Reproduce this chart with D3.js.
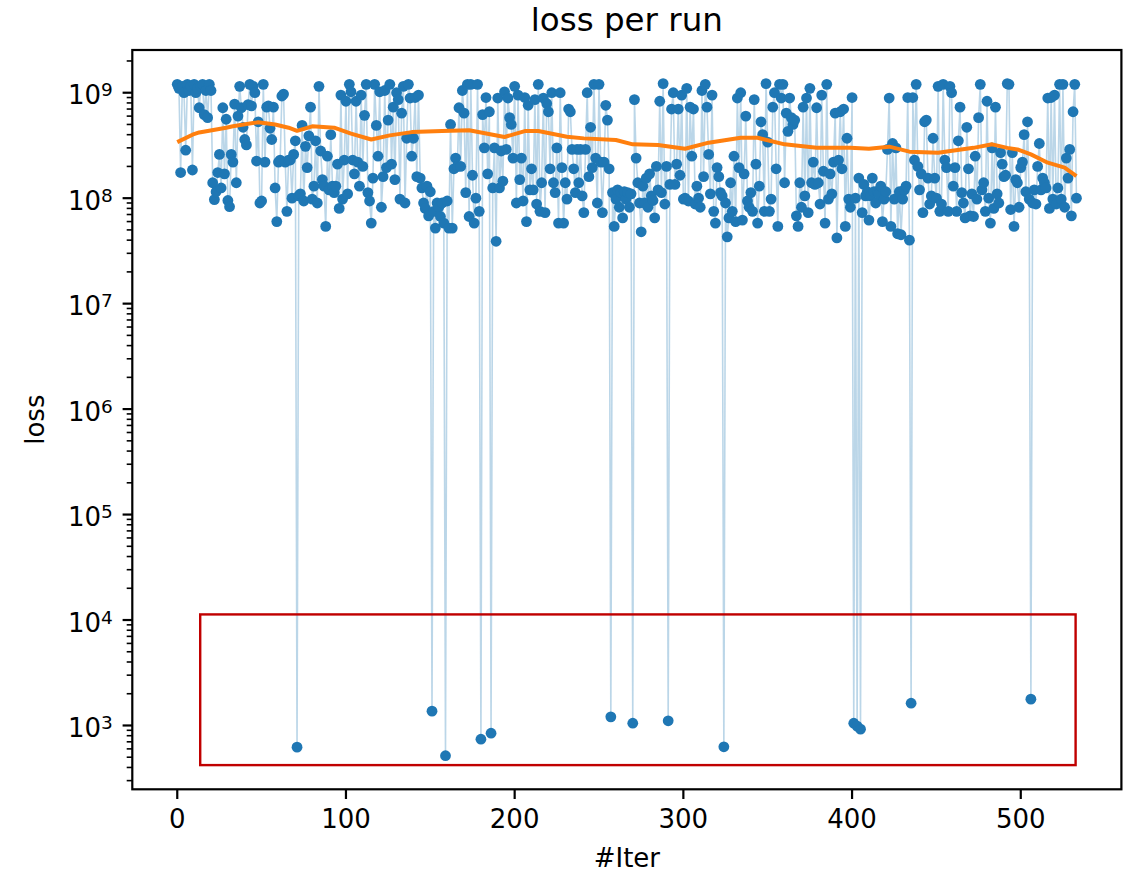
<!DOCTYPE html>
<html>
<head>
<meta charset="utf-8">
<script src="https://cdn.jsdelivr.net/npm/d3@7"></script>
<style>
  html, body { margin: 0; padding: 0; background: #fff; }
  svg { display: block; font-family: "DejaVu Sans", sans-serif; }
</style>
</head>
<body>
<svg id="chart" width="1132" height="872"></svg>
<script>
// ---------------- data ----------------
const title = "loss per run";
const xLabel = "#Iter";
const yLabel = "loss";

// loss per iteration, index = #Iter
const loss = [
  1.2e9, 1.1e9, 1.75e8, 1.15e9, 1.0e9, 2.85e8, 1.2e9, 1.05e9, 1.15e9, 1.85e8,
  1.2e9, 1.0e9, 1.1e9, 7.2e8, 1.15e9, 1.2e9, 6.2e8, 1.05e9, 5.8e8, 1.2e9,
  1.05e9, 1.4e8, 9.7e7, 1.15e8, 1.75e8, 2.6e8, 1.25e8, 7.2e8, 1.7e8, 5.6e8,
  9.5e7, 8.3e7, 2.6e8, 2.2e8, 7.8e8, 1.4e8, 6.0e8, 1.15e9, 7.2e8, 4.7e8,
  3.6e8, 3.2e8, 7.7e8, 1.2e9, 7.5e8, 1.15e9, 1.0e9, 2.25e8, 5.3e8, 9e7,
  9.4e7, 1.2e9, 2.2e8, 7.3e8, 7.5e8, 4.6e8, 3.6e8, 7.3e8, 1.25e8, 6e7,
  2.2e8, 2.3e8, 9.3e8, 9.7e8, 2.2e8, 7.5e7, 2.3e8, 2.3e8, 1.0e8, 2.6e8,
  3.5e8, 623, 1.05e8, 1.1e8, 4.9e8, 9.4e7, 3.1e8, 1.95e8, 3.9e8, 7.3e8,
  9.8e7, 1.3e8, 3.5e8, 9e7, 1.15e9, 2.8e8, 1.5e8, 1.3e8, 5.4e7, 2.5e8,
  1.2e8, 4e8, 1.3e8, 1.13e8, 1.3e8, 2.1e8, 8e7, 9.5e8, 9.8e7, 2.3e8,
  8.3e8, 1.1e8, 1.2e9, 1.02e9, 2.3e8, 1.7e8, 8.3e8, 2.2e8, 1.3e8, 9.5e8,
  2.0e8, 6.1e8, 1.2e9, 1.13e8, 9.4e7, 5.8e7, 1.55e8, 1.2e9, 4.9e8, 2.5e8,
  1.02e9, 8.2e7, 1.6e8, 1.05e9, 1.95e8, 5.5e8, 1.2e9, 2.1e8, 7.3e8, 1.5e8,
  1.0e9, 8.6e8, 9.8e7, 6.4e8, 1.15e9, 9e7, 3.7e8, 1.2e9, 8.9e8, 2.5e8,
  3.7e8, 9e8, 1.6e8, 9.5e8, 1.55e8, 1.25e8, 9e7, 8e7, 1.3e8, 6.8e7,
  1.15e8, 1367, 7.5e7, 5.2e7, 9e7, 8.2e7, 6.7e7, 9e7, 5.8e7, 517,
  9.4e7, 5.2e7, 5e8, 5.2e7, 1.9e8, 2.4e8, 2e8, 7.2e8, 2e8, 1.05e9,
  6.4e8, 1.13e8, 1.2e9, 6.7e7, 1.2e9, 1.65e8, 5.8e7, 1.0e8, 1.2e9, 7.5e7,
  741, 6.2e8, 3.0e8, 9e8, 1.7e8, 6.6e8, 845, 1.25e8, 3e8, 3.9e7,
  8.9e8, 1.25e8, 2.8e8, 1.45e8, 1.02e9, 2.9e8, 8.9e8, 5.8e8, 5e8, 2.4e8,
  1.15e9, 9e7, 9.5e8, 1.5e8, 2.4e8, 9.4e7, 9e8, 6e7, 7.6e8, 1.2e8,
  1.9e8, 1.2e8, 8.6e8, 8.8e7, 1.2e9, 7.5e7, 1.4e8, 8.9e8, 7.3e7, 7.9e8,
  6.6e8, 1.9e8, 1.0e9, 1.4e8, 1.13e8, 3e8, 5.8e7, 1e9, 1.95e8, 5.8e7,
  1.4e8, 9.8e7, 7e8, 6.6e8, 2.9e8, 1.9e8, 1.13e8, 2.9e8, 1.4e8, 2.9e8,
  1.05e8, 7.3e7, 2.9e8, 1e9, 1.6e8, 4.7e8, 1.95e8, 1.2e9, 2.4e8, 9e7,
  1.2e9, 2.2e8, 7.3e7, 2.2e8, 7.6e8, 5.5e8, 1.9e8, 1208, 1.13e8, 5.4e7,
  9.8e7, 1.2e8, 8.2e7, 1.13e8, 6.5e7, 1.15e8, 9.8e7, 1.13e8, 8.2e7, 1.1e8,
  1051, 8.6e8, 2.4e8, 1.4e8, 9e7, 4.8e7, 1.3e8, 9e7, 1.55e8, 8.2e7,
  1.7e8, 1.05e8, 9.5e7, 6.5e7, 2e8, 1.2e8, 8.3e8, 1.13e8, 1.22e9, 8.8e7,
  2e8, 1108, 1.35e8, 7e8, 1.0e9, 1.35e8, 2.1e8, 7e8, 1.65e8, 9.5e8,
  9.8e7, 1.0e8, 1.1e9, 9.4e7, 7.3e8, 2.5e8, 7e8, 8.8e7, 1.3e8, 1.0e8,
  8.2e7, 1.05e9, 1.6e8, 1.2e9, 7.3e8, 2.6e8, 1.1e8, 9.5e8, 7.5e7, 5.8e7,
  1.95e8, 1.6e8, 1.13e8, 1.05e8, 628, 9e7, 4.3e7, 6.5e7, 1.4e8, 7.5e7,
  2.5e8, 6e7, 8.9e8, 1.95e8, 1.0e9, 6.2e7, 1.7e8, 6e8, 9.4e7, 8.2e7,
  1.13e8, 7.5e7, 8.6e8, 2.1e8, 5.8e7, 1.3e8, 5.3e8, 4e8, 7.5e7, 1.22e9,
  3.4e8, 7.5e7, 9.8e7, 7.3e8, 1.0e9, 1.9e8, 5.4e7, 1.2e9, 8.9e8, 1.2e9,
  1.4e8, 6.4e8, 4.3e8, 8.9e8, 5.8e8, 5e8, 5.5e8, 6.8e7, 5.4e7, 1.4e8,
  8.2e7, 7.3e8, 1.05e8, 8.9e8, 7.3e7, 1.1e9, 1.4e8, 2.2e8, 1.35e8, 7.2e8,
  1.4e8, 8.8e7, 9.5e8, 1.8e8, 5.8e7, 1.2e9, 9.8e7, 1.7e8, 1.1e8, 2.2e8,
  6.4e8, 4.2e7, 2.3e8, 6.6e8, 1.9e8, 7e8, 5.4e7, 3.7e8, 9.8e7, 8.2e7,
  9e8, 1051, 1.0e8, 985, 1.55e8, 923, 7.3e7, 1.35e8, 1.05e8, 1.15e8,
  6.2e7, 1.05e8, 1.55e8, 1.15e8, 9e7, 1.15e8, 1.1e8, 1.3e8, 6e7, 9.8e7,
  1.15e8, 2.9e8, 8.9e8, 5.4e7, 3.3e8, 9.8e7, 3e8, 4.6e7, 1.15e8, 4.5e7,
  9.8e7, 1.2e8, 1.3e8, 9e8, 4e7, 1626, 9e8, 2.3e8, 1.2e9, 2e8,
  1.2e8, 1.7e8, 7.3e7, 5.3e8, 5.5e8, 1.55e8, 8.8e7, 1.05e8, 3.7e8, 1.55e8,
  1e8, 1.15e9, 7.5e7, 8.8e7, 1.2e9, 2.3e8, 1.95e8, 7.5e7, 1.15e9, 1e9,
  1.3e8, 1.95e8, 7.5e7, 3.5e8, 7.3e8, 1.13e8, 9e7, 6.5e7, 4.7e8, 1.9e8,
  6.8e7, 1.1e8, 6.7e7, 2.5e8, 9.8e7, 5.8e8, 1.2e9, 1.2e8, 1.4e8, 7.5e7,
  8.3e8, 1e8, 5.8e7, 3e8, 8e7, 7.3e8, 1.1e8, 9e7, 2.7e8, 2.1e8,
  1.6e8, 1.65e8, 1.22e9, 1.2e9, 7.8e7, 2.7e8, 5.4e7, 1.5e8, 1.4e8, 8.2e7,
  1.95e8, 2.2e8, 4e8, 1.15e8, 5.3e8, 9.8e7, 1776, 9e7, 1.2e8, 8.8e7,
  2e8, 3.3e8, 1.2e8, 1.55e8, 1.4e8, 1.25e8, 8.9e8, 8e7, 9e8, 9.8e7,
  9.5e8, 8.8e7, 1.25e8, 1.2e9, 9.8e7, 1.2e9, 8.2e7, 2.4e8, 1.55e8, 2.9e8,
  6.8e7, 6.6e8, 1.2e9, 1.0e8
];

// orange running-average curve, read at these iterations
const avgIter = [0, 9, 13, 29, 33, 48, 58, 66, 71, 80, 93, 103, 115, 126, 139, 157, 173, 194, 206, 214,
  231, 241, 260, 270, 285, 301, 315, 334, 344, 360, 379, 399, 410, 422, 434, 451, 472, 483, 492, 498,
  506, 516, 526, 533];
const avgLoss = [3.4e8, 4.0e8, 4.2e8, 4.66e8, 4.8e8, 5.25e8, 5.0e8, 4.66e8, 4.35e8, 4.8e8, 4.66e8, 4.1e8,
  3.6e8, 3.94e8, 4.23e8, 4.33e8, 4.4e8, 3.8e8, 4.33e8, 4.33e8, 3.83e8, 3.69e8, 3.56e8, 3.24e8, 3.2e8,
  2.94e8, 3.36e8, 3.74e8, 3.74e8, 3.24e8, 3.0e8, 3.0e8, 2.94e8, 3.08e8, 2.76e8, 2.7e8, 3.0e8, 3.24e8,
  3.0e8, 2.9e8, 2.6e8, 2.17e8, 1.95e8, 1.62e8];

// tick values
const xTickValues = [0, 100, 200, 300, 400, 500];
const yTickExponents = [3, 4, 5, 6, 7, 8, 9];

// red highlight box (data coordinates)
const boxIter = [13.6, 532.5];
const boxLoss = [421, 1.13e4];

// ---------------- layout ----------------
const M = { left: 132.3, right: 1121.4, top: 50, bottom: 789.3 };
const FS = 26;          // tick / axis label font size
const TITLE_FS = 32.5;
const SUP_FS = 18.5;
const MAJOR = 9.7, MINOR = 5.6, PAD = 9.7;

const svg = d3.select("#chart");

const points = loss.map((v, i) => ({ x: i, y: v }));
const xExt = d3.extent(points, d => d.x);
const xPad = (xExt[1] - xExt[0]) * 0.05;
const x = d3.scaleLinear().domain([xExt[0] - xPad, xExt[1] + xPad]).range([M.left, M.right]);

const lExt = d3.extent(points, d => Math.log10(d.y));
const lPad = (lExt[1] - lExt[0]) * 0.05;
const y = d3.scaleLog().domain([Math.pow(10, lExt[0] - lPad), Math.pow(10, lExt[1] + lPad)])
  .range([M.bottom, M.top]);

// clip
svg.append("defs").append("clipPath").attr("id", "clip")
  .append("rect").attr("x", M.left).attr("y", M.top)
  .attr("width", M.right - M.left).attr("height", M.bottom - M.top);

const plot = svg.append("g").attr("clip-path", "url(#clip)");

// thin connecting line
plot.append("path")
  .datum(points)
  .attr("fill", "none")
  .attr("stroke", "#1f77b4")
  .attr("stroke-opacity", 0.3)
  .attr("stroke-width", 1.6)
  .attr("d", d3.line().x(d => x(d.x)).y(d => y(d.y)));

// markers
plot.append("g").selectAll("circle")
  .data(points).join("circle")
  .attr("cx", d => x(d.x)).attr("cy", d => y(d.y))
  .attr("r", 5.4)
  .attr("fill", "#1f77b4");

// running average
const avg = avgIter.map((it, i) => ({ x: it, y: avgLoss[i] }));
plot.append("path")
  .datum(avg)
  .attr("fill", "none")
  .attr("stroke", "#ff7f0e")
  .attr("stroke-width", 4)
  .attr("stroke-linejoin", "round")
  .attr("d", d3.line().x(d => x(d.x)).y(d => y(d.y)));

// red box
svg.append("rect")
  .attr("x", x(boxIter[0])).attr("y", y(boxLoss[1]))
  .attr("width", x(boxIter[1]) - x(boxIter[0]))
  .attr("height", y(boxLoss[0]) - y(boxLoss[1]))
  .attr("fill", "none").attr("stroke", "#c00000").attr("stroke-width", 2.4);

// spines
svg.append("rect")
  .attr("x", M.left).attr("y", M.top)
  .attr("width", M.right - M.left).attr("height", M.bottom - M.top)
  .attr("fill", "none").attr("stroke", "#000").attr("stroke-width", 2.2);

// x axis ticks
const xt = svg.append("g");
xTickValues.forEach(v => {
  const px = x(v);
  xt.append("line").attr("x1", px).attr("x2", px)
    .attr("y1", M.bottom).attr("y2", M.bottom + MAJOR)
    .attr("stroke", "#000").attr("stroke-width", 2.2);
  xt.append("text").attr("x", px).attr("y", M.bottom + MAJOR + PAD + FS * 0.73)
    .attr("text-anchor", "middle").attr("font-size", FS).attr("fill", "#000")
    .text(d3.format("d")(v));
});

// y axis ticks (log)
const yt = svg.append("g");
const [d0, d1] = y.domain();
const minorVals = [];
for (let e = Math.floor(Math.log10(d0)); e <= Math.ceil(Math.log10(d1)); e++) {
  for (let m = 2; m <= 9; m++) {
    const v = m * Math.pow(10, e);
    if (v >= d0 && v <= d1) minorVals.push(v);
  }
}
minorVals.forEach(v => {
  yt.append("line").attr("x1", M.left - MINOR).attr("x2", M.left)
    .attr("y1", y(v)).attr("y2", y(v))
    .attr("stroke", "#000").attr("stroke-width", 1.6);
});
yTickExponents.forEach(e => {
  const py = y(Math.pow(10, e));
  yt.append("line").attr("x1", M.left - MAJOR).attr("x2", M.left)
    .attr("y1", py).attr("y2", py)
    .attr("stroke", "#000").attr("stroke-width", 2.2);
  const t = yt.append("text")
    .attr("x", M.left - MAJOR - PAD)
    .attr("y", py + 11.5)
    .attr("text-anchor", "end").attr("fill", "#000").attr("font-size", FS);
  t.append("tspan").text("10");
  t.append("tspan").attr("dy", -8).attr("font-size", SUP_FS).text(String(e));
});

// labels
svg.append("text")
  .attr("x", (M.left + M.right) / 2).attr("y", 867)
  .attr("text-anchor", "middle").attr("font-size", FS).attr("fill", "#000")
  .text(xLabel);

svg.append("text")
  .attr("transform", `translate(43.5, ${(M.top + M.bottom) / 2}) rotate(-90)`)
  .attr("text-anchor", "middle").attr("font-size", FS).attr("fill", "#000")
  .text(yLabel);

svg.append("text")
  .attr("x", (M.left + M.right) / 2).attr("y", 31)
  .attr("text-anchor", "middle").attr("font-size", TITLE_FS).attr("fill", "#000")
  .text(title);
</script>
</body>
</html>
